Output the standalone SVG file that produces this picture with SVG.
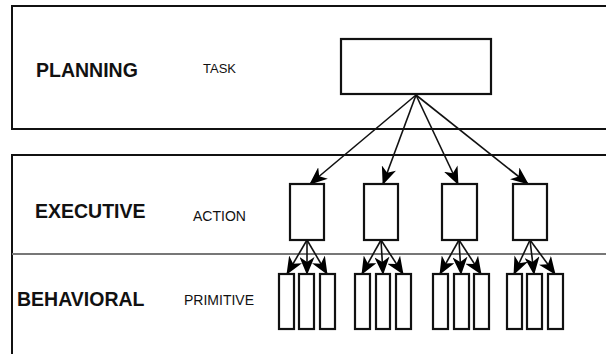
<svg xmlns="http://www.w3.org/2000/svg" width="606" height="354" viewBox="0 0 606 354">
  <style>
    .band { fill: none; stroke: #111; stroke-width: 2; }
    .sep { fill: none; stroke: #777; stroke-width: 2; }
    .box { fill: #fff; stroke: #111; stroke-width: 2.2; }
    .edge { fill: none; stroke: #111; stroke-width: 1.6; marker-end: url(#arrow); }
    .layer { font-family: "Liberation Sans", Arial, Helvetica, sans-serif; font-weight: bold; font-size: 19.5px; fill: #111; }
    .level { font-family: "Liberation Sans", Arial, Helvetica, sans-serif; font-size: 14px; fill: #111; }
  </style>
  <defs>
    <marker id="arrow" markerUnits="userSpaceOnUse" viewBox="0 0 18 15" markerWidth="18" markerHeight="15" refX="17" refY="7.5" orient="auto">
      <path d="M0,0 L18,7.5 L0,15 L5,7.5 z" fill="#000"/>
    </marker>
  </defs>

  <rect width="606" height="354" fill="#fff"/>

  <!-- layer bands -->
  <g id="planning-layer">
    <path class="band" d="M612,6 H12 V129 H612"/>
    <text class="layer" x="36" y="77">PLANNING</text>
    <text class="level" x="203" y="73" style="font-size:13px">TASK</text>
  </g>
  <g id="executive-layer">
    <path class="band" d="M612,155 H12 V360"/>
    <text class="layer" x="35" y="218">EXECUTIVE</text>
    <text class="level" x="193" y="221">ACTION</text>
  </g>
  <g id="behavioral-layer">
    <path class="sep" d="M12,254 H612"/>
    <text class="layer" x="17" y="306">BEHAVIORAL</text>
    <text class="level" x="184" y="305">PRIMITIVE</text>
  </g>

  <!-- connectors -->
  <g id="connectors">
    <path class="edge" d="M416,95 L310,184"/>
    <path class="edge" d="M416,95 L383,184"/>
    <path class="edge" d="M416,95 L458,184"/>
    <path class="edge" d="M416,95 L528,184"/>

    <path class="edge" d="M307,240 L287,274"/>
    <path class="edge" d="M307,240 L307,274"/>
    <path class="edge" d="M307,240 L327,274"/>

    <path class="edge" d="M381,240 L362,274"/>
    <path class="edge" d="M381,240 L383,274"/>
    <path class="edge" d="M381,240 L403,274"/>

    <path class="edge" d="M459,240 L440,274"/>
    <path class="edge" d="M459,240 L461,274"/>
    <path class="edge" d="M459,240 L481,274"/>

    <path class="edge" d="M530,240 L514,274"/>
    <path class="edge" d="M530,240 L534,274"/>
    <path class="edge" d="M530,240 L555,274"/>
  </g>

  <!-- task node -->
  <g id="task">
    <rect class="box" x="341" y="39" width="150" height="55"/>
  </g>

  <!-- action nodes -->
  <g id="action-1"><rect class="box" x="290" y="184" width="34" height="56"/></g>
  <g id="action-2"><rect class="box" x="364" y="184" width="34" height="56"/></g>
  <g id="action-3"><rect class="box" x="442" y="184" width="35" height="56"/></g>
  <g id="action-4"><rect class="box" x="513" y="184" width="34" height="56"/></g>

  <!-- primitive nodes -->
  <g id="primitive-1-1"><rect class="box" x="279" y="274" width="15" height="55"/></g>
  <g id="primitive-1-2"><rect class="box" x="299" y="274" width="15" height="55"/></g>
  <g id="primitive-1-3"><rect class="box" x="320" y="274" width="15" height="55"/></g>
  <g id="primitive-2-1"><rect class="box" x="355" y="274" width="15" height="55"/></g>
  <g id="primitive-2-2"><rect class="box" x="376" y="274" width="14" height="55"/></g>
  <g id="primitive-2-3"><rect class="box" x="396" y="274" width="15" height="55"/></g>
  <g id="primitive-3-1"><rect class="box" x="433" y="274" width="15" height="55"/></g>
  <g id="primitive-3-2"><rect class="box" x="454" y="274" width="15" height="55"/></g>
  <g id="primitive-3-3"><rect class="box" x="474" y="274" width="15" height="55"/></g>
  <g id="primitive-4-1"><rect class="box" x="507" y="274" width="15" height="55"/></g>
  <g id="primitive-4-2"><rect class="box" x="527" y="274" width="15" height="55"/></g>
  <g id="primitive-4-3"><rect class="box" x="548" y="274" width="15" height="55"/></g>
</svg>
